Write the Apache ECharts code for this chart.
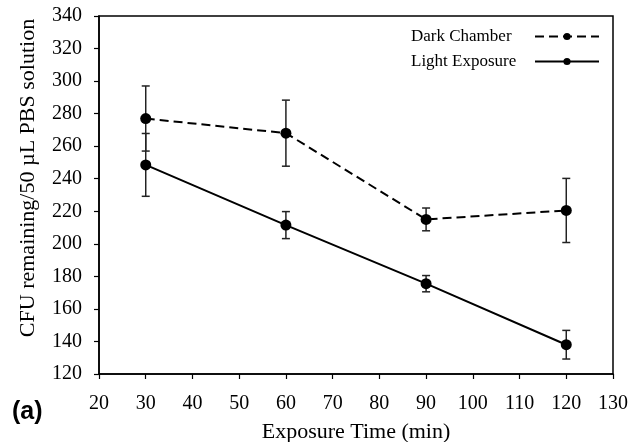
<!DOCTYPE html>
<html>
<head>
<meta charset="utf-8">
<script src="https://cdn.jsdelivr.net/npm/echarts@6/dist/echarts.min.js"></script>
<style>
  html, body { margin: 0; padding: 0; background: #fff; }
  #chart { width: 631px; height: 442px; }
</style>
</head>
<body>
<div id="chart"></div>
<script>
// exposure times (min)
const times = [30, 60, 90, 120]
// CFU remaining, means and error (+/-)
const dark = [277, 268, 215, 220.5]
const darkErr = [20, 20.3, 7, 19.7]
const light = [248.5, 211.5, 175.5, 138]
const lightErr = [19.3, 8.3, 5, 8.8]

const serif = '"Liberation Serif", "Times New Roman", serif'

const pts = (vals) => times.map((t, i) => [t, vals[i]])
const errData = (vals, errs) => times.map((t, i) => [t, vals[i] - errs[i], vals[i] + errs[i]])

const errBars = (name, vals, errs) => ({
  name: name + ' err',
  type: 'custom',
  data: errData(vals, errs),
  z: 1,
  silent: true,
  renderItem: (params, api) => {
    const lo = api.coord([api.value(0), api.value(1)])
    const hi = api.coord([api.value(0), api.value(2)])
    const w = 4
    const style = {stroke: '#222', lineWidth: 1.5}
    return {
      type: 'group',
      children: [
        {type: 'line', shape: {x1: lo[0], y1: lo[1], x2: hi[0], y2: hi[1]}, style},
        {type: 'line', shape: {x1: lo[0] - w, y1: lo[1], x2: lo[0] + w, y2: lo[1]}, style},
        {type: 'line', shape: {x1: hi[0] - w, y1: hi[1], x2: hi[0] + w, y2: hi[1]}, style}
      ]
    }
  }
})

const chart = echarts.init(document.getElementById('chart'), null, {renderer: 'canvas'})
chart.setOption({
  animation: false,
  backgroundColor: '#fff',
  grid: {
    left: 99, right: 18, top: 16, bottom: 68,
    outerBoundsMode: 'none',
    show: true, borderColor: '#000', borderWidth: 1.5
  },
  legend: {
    orient: 'vertical',
    left: 406, top: 23,
    align: 'right',
    itemWidth: 64, itemHeight: 9, itemGap: 8,
    formatter: '{t|{name}}',
    textStyle: {
      color: '#000',
      rich: {t: {fontFamily: serif, fontSize: 17, lineHeight: 17, color: '#000', width: 119, align: 'left'}}
    },
    data: ['Dark Chamber', 'Light Exposure']
  },
  xAxis: {
    type: 'value', min: 20, max: 130, interval: 10,
    name: 'Exposure Time (min)', nameLocation: 'middle', nameGap: 47,
    nameTextStyle: {fontFamily: serif, fontSize: 22, color: '#000'},
    axisLine: {lineStyle: {color: '#000', width: 1.5}},
    axisTick: {inside: false, length: 5, lineStyle: {color: '#000', width: 1.2}},
    axisLabel: {fontFamily: serif, fontSize: 20, color: '#000', margin: 20},
    splitLine: {show: false}
  },
  yAxis: {
    type: 'value', min: 120, max: 340, interval: 20,
    name: 'CFU remaining/50 µL PBS solution', nameLocation: 'middle', nameGap: 60,
    nameTextStyle: {fontFamily: serif, fontSize: 22, color: '#000', padding: [0, 0, 0, 34]},
    axisLine: {show: true, lineStyle: {color: '#000', width: 1.5}},
    axisTick: {show: true, inside: false, length: 5, lineStyle: {color: '#000', width: 1.2}},
    axisLabel: {fontFamily: serif, fontSize: 20, color: '#000', margin: 17},
    splitLine: {show: false}
  },
  graphic: [{
    type: 'text', left: 12, top: 400,
    style: {text: '(a)', font: 'bold 25px "Liberation Sans", Arial, sans-serif', fill: '#000'}
  }],
  series: [
    errBars('Dark Chamber', dark, darkErr),
    errBars('Light Exposure', light, lightErr),
    {
      name: 'Dark Chamber', type: 'line', data: pts(dark), z: 3,
      symbol: 'circle', symbolSize: 11,
      itemStyle: {color: '#000'},
      lineStyle: {color: '#000', width: 2, type: [9, 5]}
    },
    {
      name: 'Light Exposure', type: 'line', data: pts(light), z: 3,
      symbol: 'circle', symbolSize: 11,
      itemStyle: {color: '#000'},
      lineStyle: {color: '#000', width: 2}
    }
  ]
})
</script>
</body>
</html>
